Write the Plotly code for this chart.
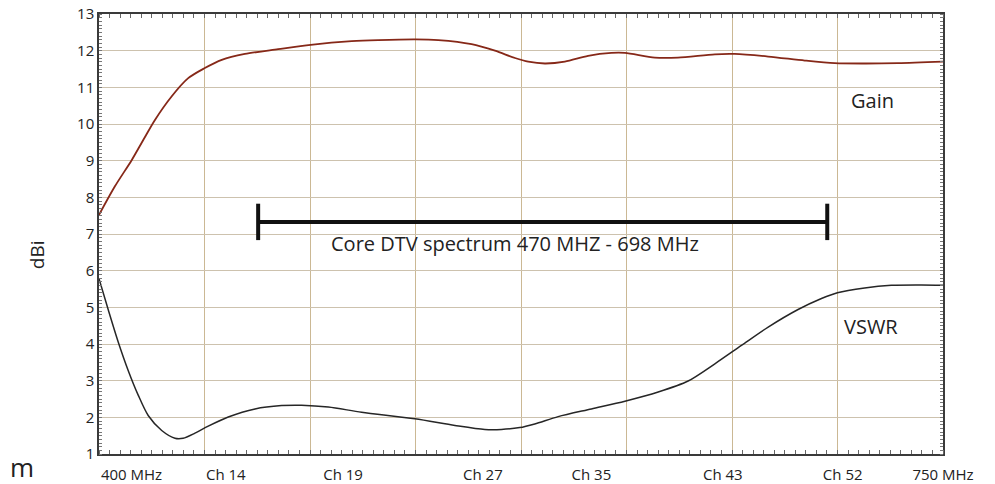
import plotly.graph_objects as go

# ---- data ----
gain_freq = [400.0, 406.6, 413.6, 418.4, 423.2, 430.1, 437.0, 443.7, 450.9, 460.5,
             474.3, 487.8, 504.8, 515.8, 531.3, 540.7, 554.5, 564.2, 572.5, 578.0,
             584.9, 593.2, 602.8, 612.5, 618.1, 630.5, 640.1, 655.4, 663.6, 677.5,
             692.7, 705.1, 717.5, 731.3, 750.0]
gain_dbi = [7.52, 8.30, 9.02, 9.57, 10.11, 10.75, 11.25, 11.52, 11.75, 11.91,
            12.04, 12.16, 12.26, 12.29, 12.31, 12.29, 12.18, 12.00, 11.80, 11.70,
            11.65, 11.70, 11.86, 11.94, 11.94, 11.81, 11.81, 11.90, 11.91, 11.84,
            11.73, 11.66, 11.65, 11.66, 11.70]

vswr_freq = [400.0, 403.9, 408.0, 412.1, 416.3, 420.4, 426.0, 431.5, 434.9, 439.8,
             445.3, 453.6, 464.7, 475.7, 484.0, 495.1, 508.9, 531.0, 547.6, 560.0,
             566.9, 574.5, 580.7, 590.4, 604.2, 618.1, 631.9, 644.3, 655.4, 666.4,
             677.5, 689.9, 699.6, 706.2, 717.5, 728.6, 741.0, 750.0]
vswr_val = [5.78, 4.92, 4.05, 3.28, 2.60, 2.05, 1.64, 1.43, 1.43, 1.57,
            1.76, 2.01, 2.23, 2.32, 2.33, 2.28, 2.14, 1.96, 1.78, 1.67,
            1.67, 1.72, 1.82, 2.02, 2.23, 2.44, 2.69, 2.99, 3.46, 3.96,
            4.46, 4.94, 5.24, 5.40, 5.53, 5.60, 5.61, 5.60]

grid_freqs = [400.0, 443.75, 487.5, 531.25, 575.0, 618.75, 662.5, 706.25, 750.0]
label_freqs = [413.5, 452.6, 501.2, 559.2, 604.2, 658.7, 708.4, 750.0]
label_text = ["400 MHz", "Ch 14", "Ch 19", "Ch 27", "Ch 35", "Ch 43", "Ch 52", "750 MHz"]
y_ticks = [1, 2, 3, 4, 5, 6, 7, 8, 9, 10, 11, 12, 13]

band_freq = [466.0, 702.0]
band_level = [7.33, 7.33]

FONT = "Open Sans"
INK = "#222222"

fig = go.Figure()
fig.add_trace(go.Scatter(x=gain_freq, y=gain_dbi, mode="lines",
                         line=dict(color="#862818", width=1.8, shape="spline", smoothing=0.8),
                         hoverinfo="skip", showlegend=False))
fig.add_trace(go.Scatter(x=vswr_freq, y=vswr_val, mode="lines",
                         line=dict(color="#262626", width=1.5, shape="spline", smoothing=0.8),
                         hoverinfo="skip", showlegend=False))
fig.add_trace(go.Scatter(x=band_freq, y=band_level, mode="lines+markers",
                         line=dict(color="#111111", width=4),
                         marker=dict(symbol="line-ns", size=26, line=dict(color="#111111", width=4)),
                         hoverinfo="skip", showlegend=False))
# carrier for the label axis
fig.add_trace(go.Scatter(x=[400, 750], y=[1, 1], mode="markers", xaxis="x2",
                         marker=dict(opacity=0), hoverinfo="skip", showlegend=False))

fig.update_layout(
    width=995, height=484,
    margin=dict(l=99, r=52, t=14, b=30, autoexpand=False),
    paper_bgcolor="white", plot_bgcolor="white",
    font=dict(family=FONT, color=INK),
    hovermode=False,
    xaxis=dict(range=[400, 750], tickmode="array", tickvals=grid_freqs,
               showticklabels=False, ticks="", showgrid=True, automargin=False,
               gridcolor="#cbb894", gridwidth=1, zeroline=False,
               showline=True, linecolor="#3a3a3a", linewidth=1.5, mirror="allticks",
               minor=dict(tickmode="linear", tick0=400, dtick=4.375, ticks="inside",
                          ticklen=4, tickwidth=1, tickcolor="#666666", showgrid=False)),
    xaxis2=dict(range=[400, 750], overlaying="x", anchor="y", side="bottom",
                tickmode="array", tickvals=label_freqs, ticktext=label_text,
                ticks="", showgrid=False, showline=False, zeroline=False, automargin=False,
                ticklabelstandoff=10,
                tickfont=dict(size=15, color=INK, family=FONT)),
    yaxis=dict(range=[1, 13], tickmode="array", tickvals=y_ticks, ticks="",
               showgrid=True, gridcolor="#cdc2ae", gridwidth=1, zeroline=False,
               showline=True, linecolor="#3a3a3a", linewidth=1.5, mirror="allticks",
               automargin=False,
               tickfont=dict(size=15, color=INK, family=FONT),
               minor=dict(tickmode="linear", tick0=1, dtick=0.1, ticks="inside",
                          ticklen=3, tickwidth=1, tickcolor="#777777", showgrid=False)),
)

fig.add_annotation(x=720.9, y=10.63, xref="x", yref="y", text="Gain", showarrow=False,
                   font=dict(size=20, color=INK, family=FONT))
fig.add_annotation(x=720.0, y=4.47, xref="x", yref="y", text="VSWR", showarrow=False,
                   font=dict(size=20, color=INK, family=FONT))
fig.add_annotation(x=572.4, y=6.73, xref="x", yref="y",
                   text="Core DTV spectrum 470 MHZ - 698 MHz", showarrow=False,
                   font=dict(size=20, color=INK, family=FONT))
fig.add_annotation(x=-0.0734, y=0.452, xref="paper", yref="paper", text="dBi",
                   xanchor="center", yanchor="middle",
                   textangle=-90, showarrow=False, font=dict(size=19, color=INK, family=FONT))
fig.add_annotation(x=-0.0912, y=-0.075, xref="paper", yref="paper", text="m",
                   xanchor="center", yanchor="bottom", showarrow=False,
                   font=dict(size=26, color=INK, family=FONT))

fig.write_html("out.html", config={"displayModeBar": False},
               post_script="document.body.style.margin='0';")
